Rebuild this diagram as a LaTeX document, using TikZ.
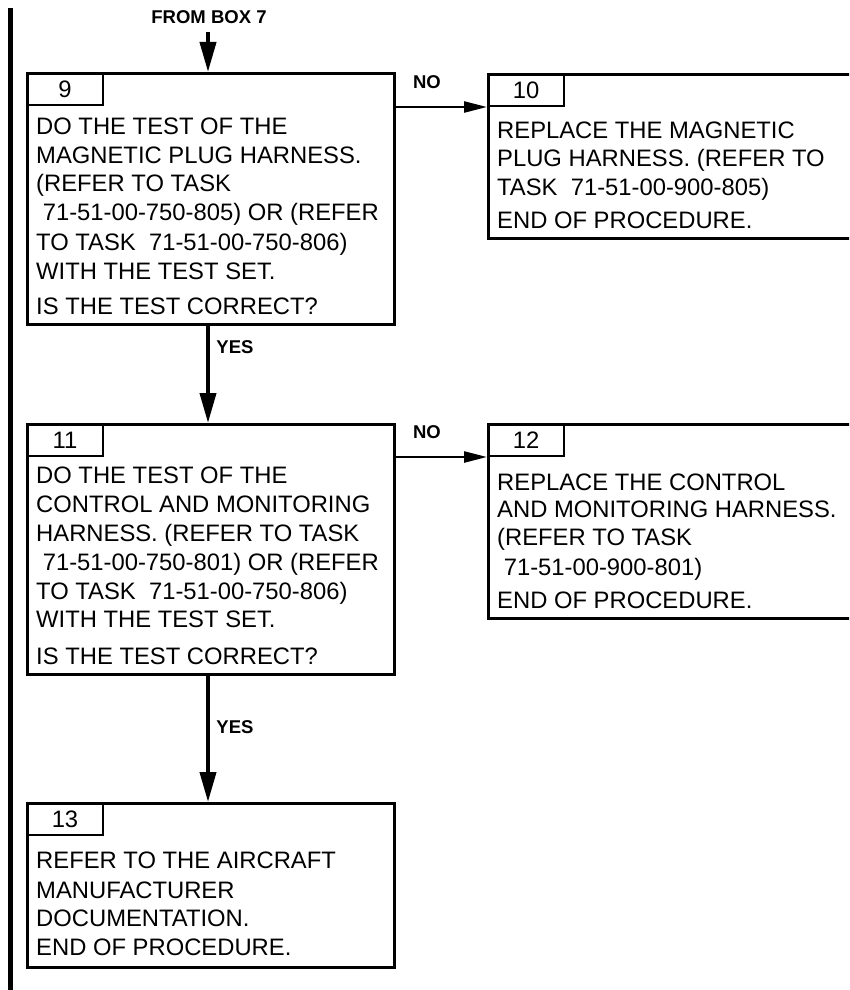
\documentclass[tikz,border=0pt]{standalone}
\usepackage{fontspec}
\setmainfont{Liberation Sans}
\usetikzlibrary{arrows.meta}
\begin{document}
\begin{tikzpicture}[x=1pt,y=-1pt,
  box/.style={draw,line width=2.5pt,rectangle,inner sep=0pt,anchor=north west},
  tabbox/.style={draw,line width=2pt,rectangle,inner sep=0pt,anchor=north west,
     minimum width=76pt,minimum height=32pt,font=\fontsize{23.8}{28}\selectfont},
  txt/.style={inner sep=0pt,anchor=base west,font=\fontsize{23.8}{28}\selectfont},
  lbl/.style={inner sep=0pt,font=\fontsize{18.5}{22}\selectfont\bfseries},
  varr/.style={line width=4pt,-{Triangle[length=30pt,width=16pt]}},
  harr/.style={line width=2.5pt,-{Triangle[length=23pt,width=11pt]}}]
\useasboundingbox (0,0) rectangle (849,990);
\clip (0,0) rectangle (849,990);
% left change bar
\fill (8,8) rectangle (13,990);
% boxes
\node[box,minimum width=367pt,minimum height=251pt] (b9) at (26,72) {};
\node[tabbox] (t9) at (b9.north west) {9};
\node[box,minimum width=390pt,minimum height=164pt] (b10) at (487,73) {};
\node[tabbox] (t10) at (b10.north west) {10};
\node[box,minimum width=367pt,minimum height=250pt] (b11) at (26,423) {};
\node[tabbox] (t11) at (b11.north west) {11};
\node[box,minimum width=390pt,minimum height=194pt] (b12) at (487,423) {};
\node[tabbox] (t12) at (b12.north west) {12};
\node[box,minimum width=367pt,minimum height=164pt] (b13) at (26,802) {};
\node[tabbox] (t13) at (b13.north west) {13};
% box 9 text
\node[txt] (l9a) at (36,134.5) {DO THE TEST OF THE};
\node[txt] (l9b) at (36,163.5) {MAGNETIC PLUG HARNESS.};
\node[txt] (l9c) at (36,191.5) {(REFER TO TASK};
\node[txt] (l9d) at (36,220.5) {\ 71-51-00-750-805) OR (REFER};
\node[txt] (l9e) at (36,250.5) {TO TASK\ \ 71-51-00-750-806)};
\node[txt] (l9f) at (36,279.5) {WITH THE TEST SET.};
\node[txt] (l9g) at (36,314.5) {IS THE TEST CORRECT?};
% box 10 text
\node[txt] (l10a) at (497,138.5) {REPLACE THE MAGNETIC};
\node[txt] (l10b) at (497,166.5) {PLUG HARNESS. (REFER TO};
\node[txt] (l10c) at (497,195.5) {TASK\ \ 71-51-00-900-805)};
\node[txt] (l10d) at (497,228.5) {END OF PROCEDURE.};
% box 11 text
\node[txt] (l11a) at (36,483.5) {DO THE TEST OF THE};
\node[txt] (l11b) at (36,512.5) {CONTROL AND MONITORING};
\node[txt] (l11c) at (36,541.5) {HARNESS. (REFER TO TASK};
\node[txt] (l11d) at (36,570.5) {\ 71-51-00-750-801) OR (REFER};
\node[txt] (l11e) at (36,599.5) {TO TASK\ \ 71-51-00-750-806)};
\node[txt] (l11f) at (36,627.5) {WITH THE TEST SET.};
\node[txt] (l11g) at (36,664.5) {IS THE TEST CORRECT?};
% box 12 text
\node[txt] (l12a) at (497,490.5) {REPLACE THE CONTROL};
\node[txt] (l12b) at (497,517.5) {AND MONITORING HARNESS.};
\node[txt] (l12c) at (497,545.5) {(REFER TO TASK};
\node[txt] (l12d) at (497,575.5) {\ 71-51-00-900-801)};
\node[txt] (l12e) at (497,608.5) {END OF PROCEDURE.};
% box 13 text
\node[txt] (l13a) at (36,868.5) {REFER TO THE AIRCRAFT};
\node[txt] (l13b) at (36,898.5) {MANUFACTURER};
\node[txt] (l13c) at (36,926.5) {DOCUMENTATION.};
\node[txt] (l13d) at (36,955.5) {END OF PROCEDURE.};
% connectors
\node[lbl] (from) at (209,17) {FROM BOX 7};
\coordinate (start) at (208,32);
\draw[varr] (start) -- (start |- b9.north);
\draw[varr] (b9.south -| start) -- (b11.north -| start);
\draw[varr] (b11.south -| start) -- (b13.north -| start);
\draw[harr] (b9.east |- t10.south) -- (b10.west |- t10.south);
\draw[harr] (b11.east |- t12.south) -- (b12.west |- t12.south);
\node[lbl] (no1) at (427,82) {NO};
\node[lbl] (no2) at (427,432) {NO};
\node[lbl] (yes1) at (235,347) {YES};
\node[lbl] (yes2) at (235,727) {YES};
\end{tikzpicture}
\end{document}
